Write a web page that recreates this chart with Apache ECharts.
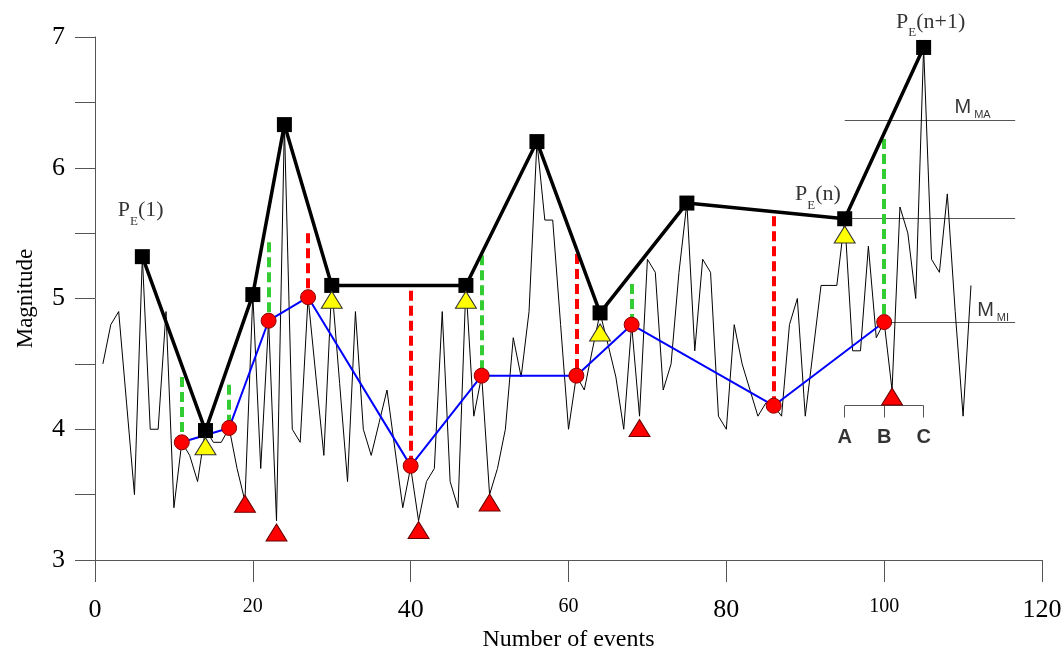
<!DOCTYPE html>
<html>
<head>
<meta charset="utf-8">
<title>Magnitude vs number of events</title>
<script src="https://cdn.jsdelivr.net/npm/echarts@6/dist/echarts.min.js"></script>
<style>
    html, body { margin: 0; padding: 0; background: #fff; }
    #main { width: 1064px; height: 652px; }
</style>
</head>
<body>
<div id="main"></div>
<script>
    // magnitude of each event, event 1 .. 111
    const magnitudes = [
        4.5, 4.8, 4.9, 4.2, 3.5, 5.32, 4.0, 4.0, 4.9, 3.4,
        3.9, 3.8, 3.6, 4.0, 3.9, 3.9, 4.01, 3.7, 3.45, 5.03,
        3.7, 4.83, 3.3, 6.33, 4.0, 3.9, 5.01, 4.4, 3.8, 5.1,
        4.35, 3.6, 4.9, 4.0, 3.8, 4.05, 4.3, 3.85, 3.4, 3.71,
        3.3, 3.6, 3.7, 4.9, 3.6, 3.4, 5.1, 4.1, 4.41, 3.5,
        3.7, 4.0, 4.7, 4.4, 4.9, 6.2, 5.6, 5.6, 4.8, 4.0,
        4.41, 4.3, 4.6, 4.89, 4.65, 4.4, 4.0, 4.8, 4.1, 5.3,
        5.2, 4.3, 4.5, 5.2, 5.73, 4.6, 5.3, 5.2, 4.1, 4.0,
        4.8, 4.5, 4.3, 4.1, 4.2, 4.18, 4.1, 4.8, 5.0, 4.1,
        4.6, 5.1, 5.1, 5.1, 5.61, 4.6, 4.6, 5.4, 4.7, 4.82,
        4.3, 5.7, 5.5, 5.0, 6.92, 5.3, 5.2, 5.8, 4.9, 4.1,
        5.1
    ];

    // P_E points (black squares)
    const peX = [6, 14, 20, 24, 30, 47, 56, 64, 75, 95, 105];
    const peY = [5.32, 3.99, 5.03, 6.33, 5.1, 5.1, 6.2, 4.89, 5.73, 5.61, 6.92];

    // red circles joined by the blue line
    const circX = [11, 17, 22, 27, 40, 49, 61, 68, 86, 100];
    const circY = [3.9, 4.01, 4.83, 5.01, 3.72, 4.41, 4.41, 4.8, 4.18, 4.82];

    const yellowX = [14, 30, 47, 64, 95];
    const yellowY = [3.87, 4.99, 4.99, 4.74, 5.49];

    const redTriX = [19, 23, 41, 50, 69, 101];
    const redTriY = [3.43, 3.21, 3.23, 3.44, 4.01, 4.25];

    // dashed verticals: x, bottom, top
    const greenX = [11, 17, 22, 49, 68, 100];
    const greenLow = [3.9, 4.01, 4.83, 4.41, 4.8, 4.82];
    const greenTop = [4.40, 4.34, 5.43, 5.33, 5.11, 6.22];
    const redDashX = [27, 40, 61, 86];
    const redDashLow = [5.01, 3.72, 4.41, 4.18];
    const redDashTop = [5.50, 5.06, 5.34, 5.63];

    // horizontal reference levels: value, start x, end x
    const levelY = [6.36, 5.61, 4.82];
    const levelFrom = [95, 95, 100];
    const levelTo = [116.6, 116.6, 116.6];

    // annotation texts
    const peNames = ['1', 'n', 'n+1'];
    const peNameX = [5.8, 91.6, 105.9];
    const peNameY = [5.59, 5.71, 7.03];
    const mNames = ['MA', 'MI'];
    const mNameX = [111.2, 113.8];
    const mNameY = [6.40, 4.85];
    const abcNames = ['A', 'B', 'C'];
    const abcX = [95, 100, 105];
    const abcY = [3.94, 3.94, 3.94];
    const bracketTop = 4.18;
    const bracketLow = 4.09;

    const serif = "'Liberation Serif', 'Times New Roman', serif";
    const sans = "'Liberation Sans', Arial, sans-serif";

    var myChart = echarts.init(document.getElementById('main'));

    function pairs(xs, ys) {
        return xs.map((x, i) => [x, ys[i]]);
    }

    function vertical(xs, lows, tops) {
        return xs.map((x, i) => ({ coords: [[x, tops[i]], [x, lows[i]]] }));
    }

    const levelLines = levelY.map((y, i) => ({ coords: [[levelFrom[i], y], [levelTo[i], y]] }));
    const bracketLines = [{ coords: [[abcX[0], bracketTop], [abcX[2], bracketTop]] }]
        .concat(abcX.map(x => ({ coords: [[x, bracketTop], [x, bracketLow]] })));

    const option = {
        animation: false,
        grid: { left: 95, right: 22, top: 37, bottom: 92, outerBoundsMode: 'none' },
        xAxis: {
            type: 'value',
            min: 0, max: 120, interval: 20,
            name: 'Number of events',
            nameLocation: 'middle',
            nameGap: 66,
            nameTextStyle: { fontFamily: serif, fontSize: 24, color: '#000' },
            axisLine: { lineStyle: { color: '#555', width: 1 } },
            axisTick: { length: 22, lineStyle: { color: '#555' } },
            axisLabel: {
                margin: 37,
                formatter: v => (v / 20) % 2 === 0 ? '{a|' + v + '}' : '{b|' + v + '}',
                rich: {
                    a: { fontFamily: serif, fontSize: 26, color: '#000' },
                    b: { fontFamily: serif, fontSize: 20, color: '#000' }
                }
            },
            splitLine: { show: false }
        },
        yAxis: {
            type: 'value',
            min: 3, max: 7, interval: 1,
            name: 'Magnitude',
            nameLocation: 'middle',
            nameGap: 58,
            nameTextStyle: { fontFamily: serif, fontSize: 23, color: '#000' },
            axisLine: { show: true, lineStyle: { color: '#555', width: 1 } },
            axisTick: { show: true, length: 20, lineStyle: { color: '#555' } },
            minorTick: { show: true, splitNumber: 2, length: 20, lineStyle: { color: '#555' } },
            axisLabel: { margin: 30, fontFamily: serif, fontSize: 26, color: '#000' },
            splitLine: { show: false }
        },
        series: [
            {
                type: 'line',
                data: magnitudes.map((m, i) => [i + 1, m]),
                symbol: 'none',
                lineStyle: { color: '#000', width: 1 },
                z: 2
            },
            {
                type: 'lines',
                coordinateSystem: 'cartesian2d',
                data: levelLines.concat(bracketLines),
                lineStyle: { color: '#555', width: 1, opacity: 1 },
                z: 2
            },
            {
                type: 'lines',
                coordinateSystem: 'cartesian2d',
                data: vertical(greenX, greenLow, greenTop),
                lineStyle: { color: '#33cc33', width: 4, type: [10, 5], opacity: 1 },
                z: 3
            },
            {
                type: 'lines',
                coordinateSystem: 'cartesian2d',
                data: vertical(redDashX, redDashLow, redDashTop),
                lineStyle: { color: '#ff0000', width: 4, type: [10, 5], opacity: 1 },
                z: 3
            },
            {
                type: 'line',
                data: pairs(circX, circY),
                symbol: 'circle',
                symbolSize: 15,
                lineStyle: { color: '#0000ff', width: 2 },
                itemStyle: { color: '#ff0000', borderColor: '#8b0000', borderWidth: 1 },
                z: 4
            },
            {
                type: 'line',
                data: pairs(peX, peY),
                symbol: 'rect',
                symbolSize: 15,
                lineStyle: { color: '#000', width: 3.5 },
                itemStyle: { color: '#000' },
                z: 5
            },
            {
                type: 'scatter',
                data: pairs(yellowX, yellowY),
                symbol: 'triangle',
                symbolSize: [21, 17],
                itemStyle: { color: '#ffff00', borderColor: '#333', borderWidth: 1, opacity: 1 },
                z: 6
            },
            {
                type: 'scatter',
                data: pairs(redTriX, redTriY),
                symbol: 'triangle',
                symbolSize: [21, 17],
                itemStyle: { color: '#ff0000', borderColor: '#660000', borderWidth: 1, opacity: 1 },
                z: 6
            },
            {
                type: 'scatter',
                clip: false,
                symbolSize: 0,
                data: peNames.map((n, i) => ({ value: [peNameX[i], peNameY[i]], name: n })),
                label: {
                    show: true,
                    position: 'inside',
                    formatter: p => '{p|P}{s|E}{p|(' + p.name + ')}',
                    rich: {
                        p: { fontFamily: serif, fontSize: 22, color: '#000', lineHeight: 22, verticalAlign: 'top' },
                        s: { fontFamily: serif, fontSize: 13, color: '#000', lineHeight: 44, verticalAlign: 'middle' }
                    }
                },
                z: 7
            },
            {
                type: 'scatter',
                clip: false,
                symbolSize: 0,
                data: mNames.map((n, i) => ({ value: [mNameX[i], mNameY[i]], name: n })),
                label: {
                    show: true,
                    position: 'inside',
                    formatter: p => '{m|M}{s|' + p.name + '}',
                    rich: {
                        m: { fontFamily: sans, fontSize: 20, color: '#000', lineHeight: 20, verticalAlign: 'top' },
                        s: { fontFamily: sans, fontSize: 11, color: '#000', lineHeight: 36, verticalAlign: 'middle', padding: [0, 0, 0, 3] }
                    }
                },
                z: 7
            },
            {
                type: 'scatter',
                clip: false,
                symbolSize: 0,
                data: abcNames.map((n, i) => ({ value: [abcX[i], abcY[i]], name: n })),
                label: {
                    show: true,
                    position: 'inside',
                    formatter: '{b}',
                    fontFamily: sans,
                    fontWeight: 'bold',
                    fontSize: 20,
                    color: '#000'
                },
                z: 7
            }
        ]
    };

    myChart.setOption(option);
</script>
</body>
</html>
